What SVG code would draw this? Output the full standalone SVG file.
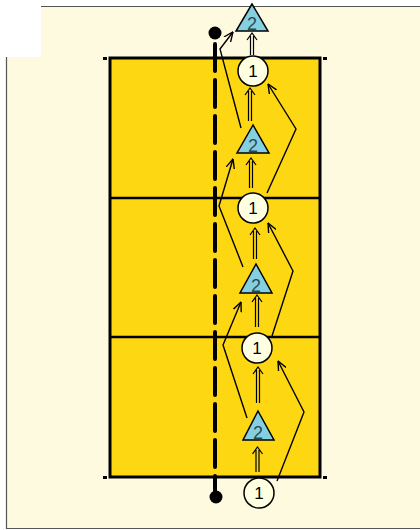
<svg xmlns="http://www.w3.org/2000/svg" width="420" height="530" viewBox="0 0 420 530">
<defs>
<style>
.lbl{font-family:"Liberation Sans",Arial,sans-serif;font-size:17px;text-anchor:middle}
.p1 circle{fill:#FFFFE2;stroke:#000;stroke-width:1.5}
.p2 polygon{fill:#84D0E0;stroke:#000;stroke-width:1.5}
.p2 text{fill:#2C4A55;font-size:18px}
.mv{fill:none;stroke:#000;stroke-width:1.4;marker-end:url(#ah)}
.dbl{fill:none;stroke:#000;stroke-width:1.2}
</style>
<marker id="ah" viewBox="0 0 10 10" refX="9.5" refY="5" markerWidth="10" markerHeight="10" markerUnits="userSpaceOnUse" orient="auto">
<path d="M0,0.8 L9.5,5 L0,9.2" fill="none" stroke="#000" stroke-width="1.4"/>
</marker>
</defs>
<rect x="0" y="0" width="420" height="530" fill="#fff"/>
<path d="M7,57 H41 V7 H420 V528 H7 Z" fill="#FEFAE0"/>
<path d="M41,6.5 H420 M6.5,57 V528.5 H420" fill="none" stroke="#555" stroke-width="1.2"/>
<g id="court">
<rect x="110" y="58" width="210" height="419" fill="#FED713" stroke="#000" stroke-width="3"/>
<line x1="110" y1="198" x2="320" y2="198" stroke="#000" stroke-width="2.5"/>
<line x1="110" y1="337" x2="320" y2="337" stroke="#000" stroke-width="2.5"/>
<rect x="103" y="57" width="4" height="3" fill="#000"/>
<rect x="323" y="57" width="4" height="3" fill="#000"/>
<rect x="103" y="476" width="4" height="3" fill="#000"/>
<rect x="323" y="476" width="4" height="3" fill="#000"/>
</g>
<g id="net">
<line x1="215" y1="44" x2="215" y2="495" stroke="#000" stroke-width="4" stroke-dasharray="27 9" stroke-linecap="round"/>
<circle cx="215" cy="33" r="6.5" fill="#000"/>
<circle cx="216" cy="497" r="6.5" fill="#000"/>
</g>
<g id="connectors">
<path class="mv" d="M241,128 L220,49 L233,32"/>
<path class="mv" d="M243,267 L219,206 L233,159"/>
<path class="mv" d="M247,418 L223,345 L241,302"/>
<path class="mv" d="M267,193 L296,129 L268,84"/>
<path class="mv" d="M272,336 L293,271 L268,223"/>
<path class="mv" d="M277,481 L304,412 L278,361"/>
<path class="dbl" d="M250.5,55 V36 M253.5,55 V36 M247,40 L252,33 L257,40"/>
<path class="dbl" d="M248.5,121 V91 M251.5,121 V91 M245,95 L250,88 L255,95"/>
<path class="dbl" d="M249.5,188 V161 M252.5,188 V161 M246,165 L251,158 L256,165"/>
<path class="dbl" d="M253.5,259 V231 M256.5,259 V231 M250,235 L255,228 L260,235"/>
<path class="dbl" d="M255.5,327 V298 M258.5,327 V298 M252,302 L257,295 L262,302"/>
<path class="dbl" d="M256.5,403 V370 M259.5,403 V370 M253,374 L258,367 L263,374"/>
<path class="dbl" d="M256,472 V450 M259,472 V450 M252.5,454 L257.5,447 L262.5,454"/>
</g>
<g id="p2a" class="p2"><polygon points="252,4 236,31 268,31"/><text class="lbl" x="252" y="30">2</text></g>
<g id="p1a" class="p1"><circle cx="253" cy="71" r="15"/><text class="lbl" x="253" y="77">1</text></g>
<g id="p2b" class="p2"><polygon points="253,125 237,153 269,153"/><text class="lbl" x="253" y="152">2</text></g>
<g id="p1b" class="p1"><circle cx="253" cy="208" r="15"/><text class="lbl" x="253" y="214">1</text></g>
<g id="p2c" class="p2"><polygon points="256,264 240,293 272,293"/><text class="lbl" x="256" y="292">2</text></g>
<g id="p1c" class="p1"><circle cx="257" cy="348" r="15"/><text class="lbl" x="257" y="354">1</text></g>
<g id="p2d" class="p2"><polygon points="258,411 243,440 274,440"/><text class="lbl" x="258" y="439">2</text></g>
<g id="p1d" class="p1"><circle cx="259" cy="493" r="15"/><text class="lbl" x="259" y="499">1</text></g>
</svg>
